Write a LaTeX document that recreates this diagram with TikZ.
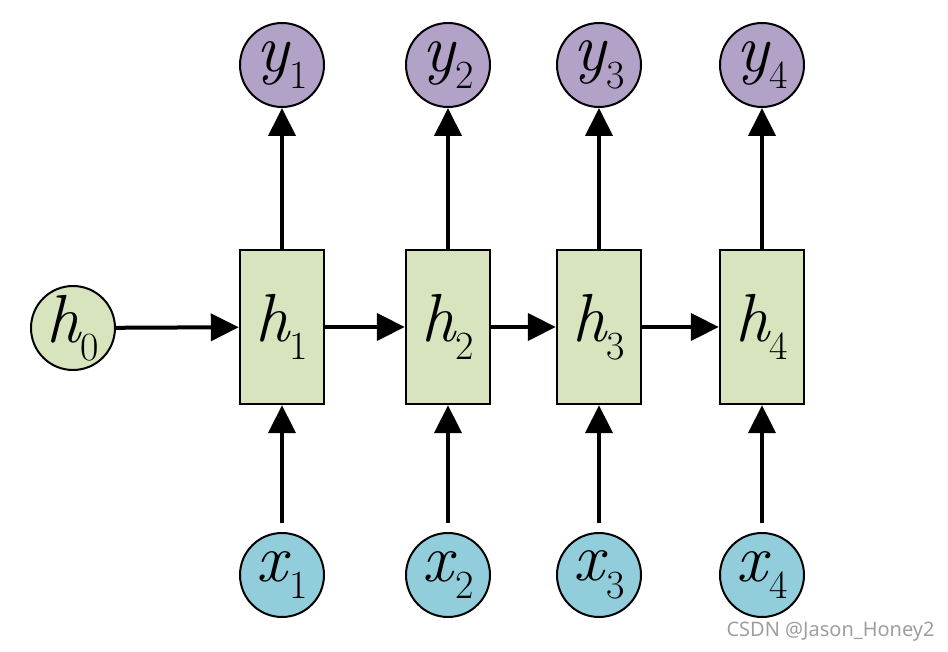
\documentclass[tikz,border=0pt]{standalone}
\usepackage{fontspec}
\newfontfamily\wmfont{Noto Sans}
\usetikzlibrary{arrows.meta}

\definecolor{ypurple}{RGB}{178,162,199}
\definecolor{hgreen}{RGB}{215,228,189}
\definecolor{xblue}{RGB}{146,205,220}

\newcommand\sublbl[2]{\textit{#1}\kern-0.02em\raisebox{-0.26em}{\fontsize{20}{20}\selectfont #2}}

\tikzset{
  lbl/.style={font=\fontsize{34}{36}\selectfont},
  ball/.style={lbl, circle, draw, line width=1pt, minimum size=42pt, inner sep=0pt},
  cell/.style={lbl, rectangle, draw, line width=1.2pt, fill=hgreen,
    minimum width=42pt, minimum height=77pt, inner sep=0pt},
  arr/.style={line width=2pt, -{Triangle[length=14pt,width=13.5pt]}},
}

\begin{document}
\begin{tikzpicture}[x=0.5pt, y=-0.5pt]
  \useasboundingbox (0,0) rectangle (948,652);

  \node[ball, fill=hgreen] (h0) at (73,328) {\sublbl{h}{0}};

  \foreach \i/\cx in {1/282, 2/448, 3/599, 4/762} {
      \node[cell] (h\i) at (\cx,327) {\sublbl{h}{\i}};
      \node[ball, fill=ypurple] (y\i) at (\cx,65) {\sublbl{y}{\i}};
      \node[ball, fill=xblue] (x\i) at (\cx,575) {\sublbl{x}{\i}};
      \draw[arr] (h\i.north) -- (y\i.south);
      \draw[arr] ([yshift=4.5pt]x\i.north) -- (h\i.south);
  }

  \draw[arr] (h0) -- (h1);
  \foreach \j [count=\k from 2] in {1, 2, 3} {
      \draw[arr] (h\j.east) -- (h\k.west);
  }

  \node[anchor=east, inner sep=0pt, text=black!38, font=\wmfont\fontsize{10}{12}\selectfont] (mark)
    at (935,632) {CSDN @Jason\_Honey2};
\end{tikzpicture}
\end{document}
